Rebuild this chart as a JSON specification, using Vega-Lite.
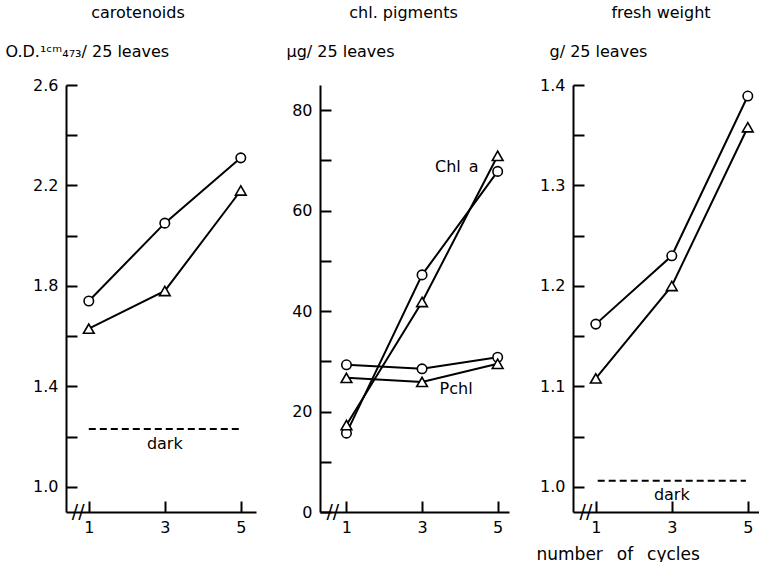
{
  "$schema": "https://vega.github.io/schema/vega-lite/v6.json",
  "background": "white",
  "padding": {"left": 5, "top": 5, "right": 0, "bottom": 0},
  "bounds": "flush",
  "spacing": 64,
  "config": {
    "view": {"stroke": null},
    "font": "DejaVu Sans",
    "axis": {
      "grid": false,
      "domainColor": "black",
      "domainWidth": 2,
      "tickColor": "black",
      "tickWidth": 2,
      "tickSize": -11,
      "labelFont": "DejaVu Sans",
      "labelFontSize": 16,
      "labelColor": "black",
      "titleFont": "DejaVu Sans",
      "titleFontSize": 16,
      "titleFontWeight": "normal",
      "titleColor": "black"
    },
    "axisY": {"labelPadding": 19},
    "axisX": {"labelPadding": 18},
    "title": {"font": "DejaVu Sans", "fontSize": 16, "fontWeight": "normal", "color": "black", "anchor": "middle"}
  },
  "datasets": {
    "car": [
      {"cycles": 1, "value": 1.74, "marker": "circle"},
      {"cycles": 3, "value": 2.05, "marker": "circle"},
      {"cycles": 5, "value": 2.31, "marker": "circle"},
      {"cycles": 1, "value": 1.63, "marker": "triangle"},
      {"cycles": 3, "value": 1.78, "marker": "triangle"},
      {"cycles": 5, "value": 2.18, "marker": "triangle"}
    ],
    "car_dark": [{"cycles": 1, "cycles2": 5, "value": 1.23}],
    "car_lab": [
      {"cycles": 3, "value": 1.17, "label": "dark", "size": 16},
      {"cycles": 0.72, "value": 0.9, "label": "//", "size": 19}
    ],
    "chl": [
      {"cycles": 1, "value": 15.7, "marker": "circle", "curve": "Chl a circle"},
      {"cycles": 3, "value": 47.2, "marker": "circle", "curve": "Chl a circle"},
      {"cycles": 5, "value": 67.8, "marker": "circle", "curve": "Chl a circle"},
      {"cycles": 1, "value": 17.3, "marker": "triangle", "curve": "Chl a triangle"},
      {"cycles": 3, "value": 41.8, "marker": "triangle", "curve": "Chl a triangle"},
      {"cycles": 5, "value": 70.9, "marker": "triangle", "curve": "Chl a triangle"},
      {"cycles": 1, "value": 29.3, "marker": "circle", "curve": "Pchl circle"},
      {"cycles": 3, "value": 28.5, "marker": "circle", "curve": "Pchl circle"},
      {"cycles": 5, "value": 30.8, "marker": "circle", "curve": "Pchl circle"},
      {"cycles": 1, "value": 26.7, "marker": "triangle", "curve": "Pchl triangle"},
      {"cycles": 3, "value": 25.9, "marker": "triangle", "curve": "Pchl triangle"},
      {"cycles": 5, "value": 29.5, "marker": "triangle", "curve": "Pchl triangle"}
    ],
    "chl_lab": [
      {"cycles": 3.92, "value": 68.7, "label": "Chl\u2002a", "size": 16},
      {"cycles": 3.9, "value": 24.5, "label": "Pchl", "size": 16},
      {"cycles": 0.64, "value": 0, "label": "//", "size": 19}
    ],
    "fw": [
      {"cycles": 1, "value": 1.162, "marker": "circle"},
      {"cycles": 3, "value": 1.23, "marker": "circle"},
      {"cycles": 5, "value": 1.389, "marker": "circle"},
      {"cycles": 1, "value": 1.108, "marker": "triangle"},
      {"cycles": 3, "value": 1.2, "marker": "triangle"},
      {"cycles": 5, "value": 1.358, "marker": "triangle"}
    ],
    "fw_dark": [{"cycles": 1.05, "cycles2": 4.95, "value": 1.006}],
    "fw_lab": [
      {"cycles": 3, "value": 0.992, "label": "dark", "size": 16},
      {"cycles": 0.74, "value": 0.975, "label": "//", "size": 19}
    ]
  },
  "hconcat": [
    {
      "width": 190,
      "height": 427,
      "title": {"text": "carotenoids", "dx": -23, "offset": 22},
      "encoding": {
        "x": {"field": "cycles", "type": "quantitative", "scale": {"domain": [0.4, 5.4], "nice": false, "zero": false}, "axis": {"values": [1, 3, 5], "title": null}},
        "y": {"field": "value", "type": "quantitative", "scale": {"domain": [0.9, 2.6], "nice": false, "zero": false},
          "axis": {"values": [1, 1.2, 1.4, 1.6, 1.8, 2, 2.2, 2.4, 2.6], "format": ".1f",
            "labelExpr": "round(datum.value * 10) % 4 == 2 ? datum.label : ''",
            "title": "O.D.¹ᶜᵐ₄₇₃/ 25 leaves", "titleAngle": 0, "titleAlign": "left", "titleBaseline": "alphabetic", "titleX": -61, "titleY": -29}}
      },
      "layer": [
        {"data": {"name": "car"}, "mark": {"type": "line", "color": "black", "strokeWidth": 2}, "encoding": {"detail": {"field": "marker", "type": "nominal"}}},
        {"data": {"name": "car"}, "mark": {"type": "point", "filled": true, "fill": "white", "stroke": "black", "strokeWidth": 1.6, "opacity": 1},
          "encoding": {
            "shape": {"field": "marker", "type": "nominal", "scale": {"domain": ["circle", "triangle"], "range": ["circle", "triangle-up"]}, "legend": null},
            "size": {"field": "marker", "type": "nominal", "scale": {"domain": ["circle", "triangle"], "range": [90, 115]}, "legend": null}
          }},
        {"data": {"name": "car_dark"}, "mark": {"type": "rule", "color": "black", "strokeWidth": 2, "strokeDash": [7, 4]}, "encoding": {"x2": {"field": "cycles2"}}},
        {"data": {"name": "car_lab"}, "mark": {"type": "text", "color": "black", "baseline": "middle"}, "encoding": {"text": {"field": "label"}, "size": {"field": "size", "type": "quantitative", "scale": null}}}
      ]
    },
    {
      "width": 189,
      "height": 427,
      "title": {"text": "chl. pigments", "dx": -11, "offset": 22},
      "encoding": {
        "x": {"field": "cycles", "type": "quantitative", "scale": {"domain": [0.3, 5.3], "nice": false, "zero": false}, "axis": {"values": [1, 3, 5], "title": null}},
        "y": {"field": "value", "type": "quantitative", "scale": {"domain": [0, 85], "nice": false, "zero": false},
          "axis": {"values": [0, 10, 20, 30, 40, 50, 60, 70, 80],
            "labelExpr": "datum.value % 20 == 0 ? datum.label : ''",
            "title": "µg/ 25 leaves", "titleAngle": 0, "titleAlign": "left", "titleBaseline": "alphabetic", "titleX": -34, "titleY": -29}}
      },
      "layer": [
        {"data": {"name": "chl"}, "mark": {"type": "line", "color": "black", "strokeWidth": 2}, "encoding": {"detail": {"field": "curve", "type": "nominal"}}},
        {"data": {"name": "chl"}, "mark": {"type": "point", "filled": true, "fill": "white", "stroke": "black", "strokeWidth": 1.6, "opacity": 1},
          "encoding": {
            "shape": {"field": "marker", "type": "nominal", "scale": {"domain": ["circle", "triangle"], "range": ["circle", "triangle-up"]}, "legend": null},
            "size": {"field": "marker", "type": "nominal", "scale": {"domain": ["circle", "triangle"], "range": [90, 115]}, "legend": null}
          }},
        {"data": {"name": "chl_lab"}, "mark": {"type": "text", "color": "black", "baseline": "middle"}, "encoding": {"text": {"field": "label"}, "size": {"field": "size", "type": "quantitative", "scale": null}}}
      ]
    },
    {
      "width": 190,
      "height": 427,
      "title": {"text": "fresh weight", "dx": -7, "offset": 22},
      "encoding": {
        "x": {"field": "cycles", "type": "quantitative", "scale": {"domain": [0.4, 5.4], "nice": false, "zero": false},
          "axis": {"values": [1, 3, 5], "title": "number \u2002of \u2002cycles", "titleFontSize": 17, "titleAlign": "left", "titleBaseline": "alphabetic", "titleX": -37, "titleY": 47}},
        "y": {"field": "value", "type": "quantitative", "scale": {"domain": [0.975, 1.4], "nice": false, "zero": false},
          "axis": {"values": [1, 1.05, 1.1, 1.15, 1.2, 1.25, 1.3, 1.35, 1.4], "format": ".1f",
            "labelExpr": "round(datum.value * 100) % 10 == 0 ? datum.label : ''",
            "title": "g/ 25 leaves", "titleAngle": 0, "titleAlign": "left", "titleBaseline": "alphabetic", "titleX": -24, "titleY": -29}}
      },
      "layer": [
        {"data": {"name": "fw"}, "mark": {"type": "line", "color": "black", "strokeWidth": 2}, "encoding": {"detail": {"field": "marker", "type": "nominal"}}},
        {"data": {"name": "fw"}, "mark": {"type": "point", "filled": true, "fill": "white", "stroke": "black", "strokeWidth": 1.6, "opacity": 1},
          "encoding": {
            "shape": {"field": "marker", "type": "nominal", "scale": {"domain": ["circle", "triangle"], "range": ["circle", "triangle-up"]}, "legend": null},
            "size": {"field": "marker", "type": "nominal", "scale": {"domain": ["circle", "triangle"], "range": [90, 115]}, "legend": null}
          }},
        {"data": {"name": "fw_dark"}, "mark": {"type": "rule", "color": "black", "strokeWidth": 2, "strokeDash": [7, 4]}, "encoding": {"x2": {"field": "cycles2"}}},
        {"data": {"name": "fw_lab"}, "mark": {"type": "text", "color": "black", "baseline": "middle"}, "encoding": {"text": {"field": "label"}, "size": {"field": "size", "type": "quantitative", "scale": null}}}
      ]
    }
  ]
}
